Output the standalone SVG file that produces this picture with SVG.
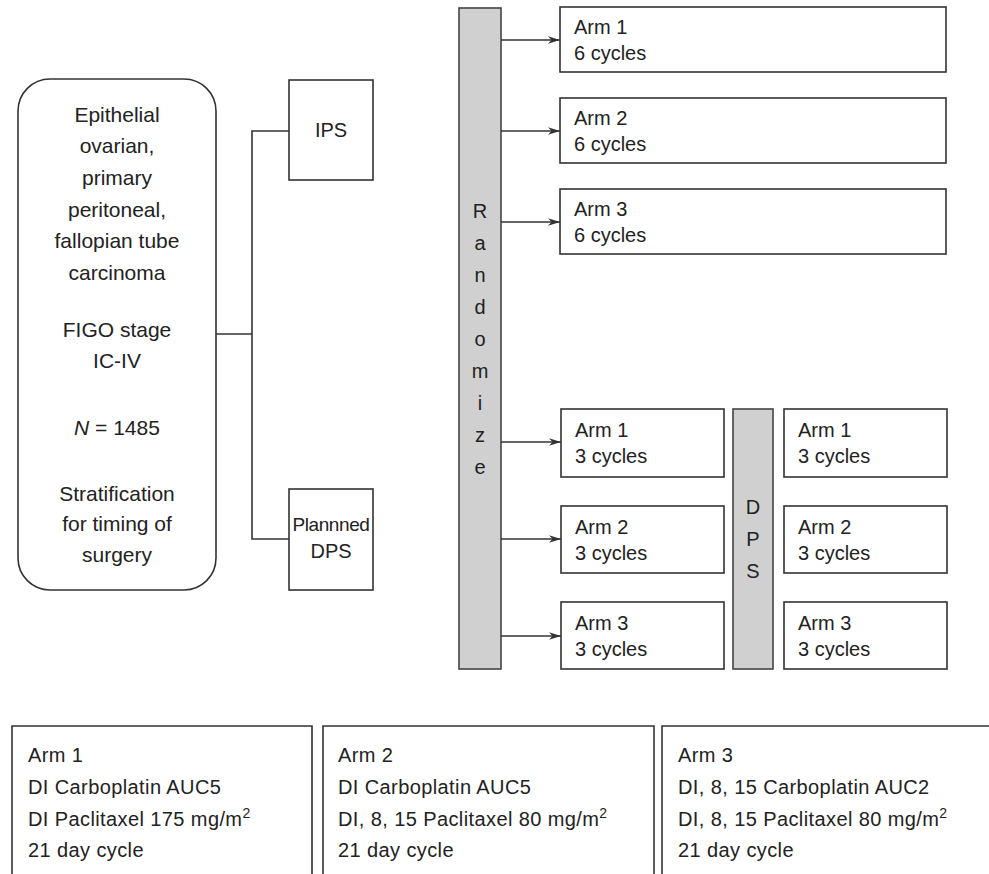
<svg xmlns="http://www.w3.org/2000/svg" width="989" height="874" viewBox="0 0 989 874">
<style>
.box{fill:#fff;stroke:#333;stroke-width:1.6}
.bar{fill:#d0d0d0;stroke:#444;stroke-width:1.6}
.ln{fill:none;stroke:#333;stroke-width:1.6}
text{font-family:"Liberation Sans",Arial,sans-serif;fill:#222}
.c{font-size:21px;text-anchor:middle}
.a{font-size:20px}
.l{font-size:20px;letter-spacing:0.4px}
.v{font-size:20px;text-anchor:middle}
.p{font-size:19px;text-anchor:middle;letter-spacing:-0.4px}
.sup{font-size:14px}
</style>
<defs>
<marker id="arr" markerWidth="13" markerHeight="9" refX="12" refY="4.5" orient="auto" markerUnits="userSpaceOnUse">
<path d="M0,0.8 L12,4.5 L0,8.2 L3.5,4.5 Z" fill="#333"/>
</marker>
</defs>

<g id="population">
<rect class="box" x="18" y="79" width="198" height="511" rx="32" ry="32"/>
<text class="c" x="117" y="122">Epithelial</text>
<text class="c" x="117" y="153">ovarian,</text>
<text class="c" x="117" y="185">primary</text>
<text class="c" x="117" y="217">peritoneal,</text>
<text class="c" x="117" y="248">fallopian tube</text>
<text class="c" x="117" y="280">carcinoma</text>
<text class="c" x="117" y="337">FIGO stage</text>
<text class="c" x="117" y="368">IC-IV</text>
<text class="c" x="117" y="435"><tspan font-style="italic">N</tspan> = 1485</text>
<text class="c" x="117" y="501">Stratification</text>
<text class="c" x="117" y="531">for timing of</text>
<text class="c" x="117" y="562">surgery</text>
</g>

<g id="ips">
<rect class="box" x="289" y="80" width="84" height="100"/>
<text class="v" x="331" y="137">IPS</text>
</g>

<g id="dps-planned">
<rect class="box" x="289" y="489" width="84" height="101"/>
<text class="p" x="331" y="531">Plannned</text>
<text class="v" x="331" y="558">DPS</text>
</g>

<g id="randomize">
<rect class="bar" x="459" y="8" width="42" height="661"/>
<text class="v" x="480" y="218">R</text>
<text class="v" x="480" y="250">a</text>
<text class="v" x="480" y="282">n</text>
<text class="v" x="480" y="314">d</text>
<text class="v" x="480" y="346">o</text>
<text class="v" x="480" y="378">m</text>
<text class="v" x="480" y="410">i</text>
<text class="v" x="480" y="442">z</text>
<text class="v" x="480" y="474">e</text>
</g>

<g id="ips-arm1">
<rect class="box" x="560" y="7" width="386" height="65"/>
<text class="a" x="574" y="34">Arm 1</text>
<text class="a" x="574" y="60">6 cycles</text>
</g>
<g id="ips-arm2">
<rect class="box" x="560" y="98" width="386" height="65"/>
<text class="a" x="574" y="125">Arm 2</text>
<text class="a" x="574" y="151">6 cycles</text>
</g>
<g id="ips-arm3">
<rect class="box" x="560" y="189" width="386" height="65"/>
<text class="a" x="574" y="216">Arm 3</text>
<text class="a" x="574" y="242">6 cycles</text>
</g>

<g id="dps-arm1a">
<rect class="box" x="561" y="409" width="163" height="68"/>
<text class="a" x="575" y="437">Arm 1</text>
<text class="a" x="575" y="463">3 cycles</text>
</g>
<g id="dps-arm2a">
<rect class="box" x="561" y="506" width="163" height="67"/>
<text class="a" x="575" y="534">Arm 2</text>
<text class="a" x="575" y="560">3 cycles</text>
</g>
<g id="dps-arm3a">
<rect class="box" x="561" y="602" width="163" height="67"/>
<text class="a" x="575" y="630">Arm 3</text>
<text class="a" x="575" y="656">3 cycles</text>
</g>

<g id="dps">
<rect class="bar" x="733" y="409" width="40" height="260"/>
<text class="v" x="753" y="514">D</text>
<text class="v" x="753" y="546">P</text>
<text class="v" x="753" y="578">S</text>
</g>

<g id="dps-arm1b">
<rect class="box" x="784" y="409" width="163" height="68"/>
<text class="a" x="798" y="437">Arm 1</text>
<text class="a" x="798" y="463">3 cycles</text>
</g>
<g id="dps-arm2b">
<rect class="box" x="784" y="506" width="163" height="67"/>
<text class="a" x="798" y="534">Arm 2</text>
<text class="a" x="798" y="560">3 cycles</text>
</g>
<g id="dps-arm3b">
<rect class="box" x="784" y="602" width="163" height="67"/>
<text class="a" x="798" y="630">Arm 3</text>
<text class="a" x="798" y="656">3 cycles</text>
</g>

<g id="legend-arm1">
<path class="ln" d="M12,874 V726 H312 V874"/>
<text class="l" x="28" y="762">Arm 1</text>
<text class="l" x="28" y="794">DI Carboplatin AUC5</text>
<text class="l" x="28" y="826">DI Paclitaxel 175 mg/m<tspan class="sup" dy="-8">2</tspan></text>
<text class="l" x="28" y="857">21 day cycle</text>
</g>
<g id="legend-arm2">
<path class="ln" d="M323,874 V726 H654 V874"/>
<text class="l" x="338" y="762">Arm 2</text>
<text class="l" x="338" y="794">DI Carboplatin AUC5</text>
<text class="l" x="338" y="826">DI, 8, 15 Paclitaxel 80 mg/m<tspan class="sup" dy="-8">2</tspan></text>
<text class="l" x="338" y="857">21 day cycle</text>
</g>
<g id="legend-arm3">
<path class="ln" d="M662,874 V726 H989"/>
<text class="l" x="678" y="762">Arm 3</text>
<text class="l" x="678" y="794">DI, 8, 15 Carboplatin AUC2</text>
<text class="l" x="678" y="826">DI, 8, 15 Paclitaxel 80 mg/m<tspan class="sup" dy="-8">2</tspan></text>
<text class="l" x="678" y="857">21 day cycle</text>
</g>

<g id="connectors">
<path class="ln" d="M216,334 H252"/>
<path class="ln" d="M289,131 H252 V539 H289"/>
<path class="ln" d="M501,40 H560" marker-end="url(#arr)"/>
<path class="ln" d="M501,131 H560" marker-end="url(#arr)"/>
<path class="ln" d="M501,222 H560" marker-end="url(#arr)"/>
<path class="ln" d="M501,442 H561" marker-end="url(#arr)"/>
<path class="ln" d="M501,539 H561" marker-end="url(#arr)"/>
<path class="ln" d="M501,636 H561" marker-end="url(#arr)"/>
</g>
</svg>
